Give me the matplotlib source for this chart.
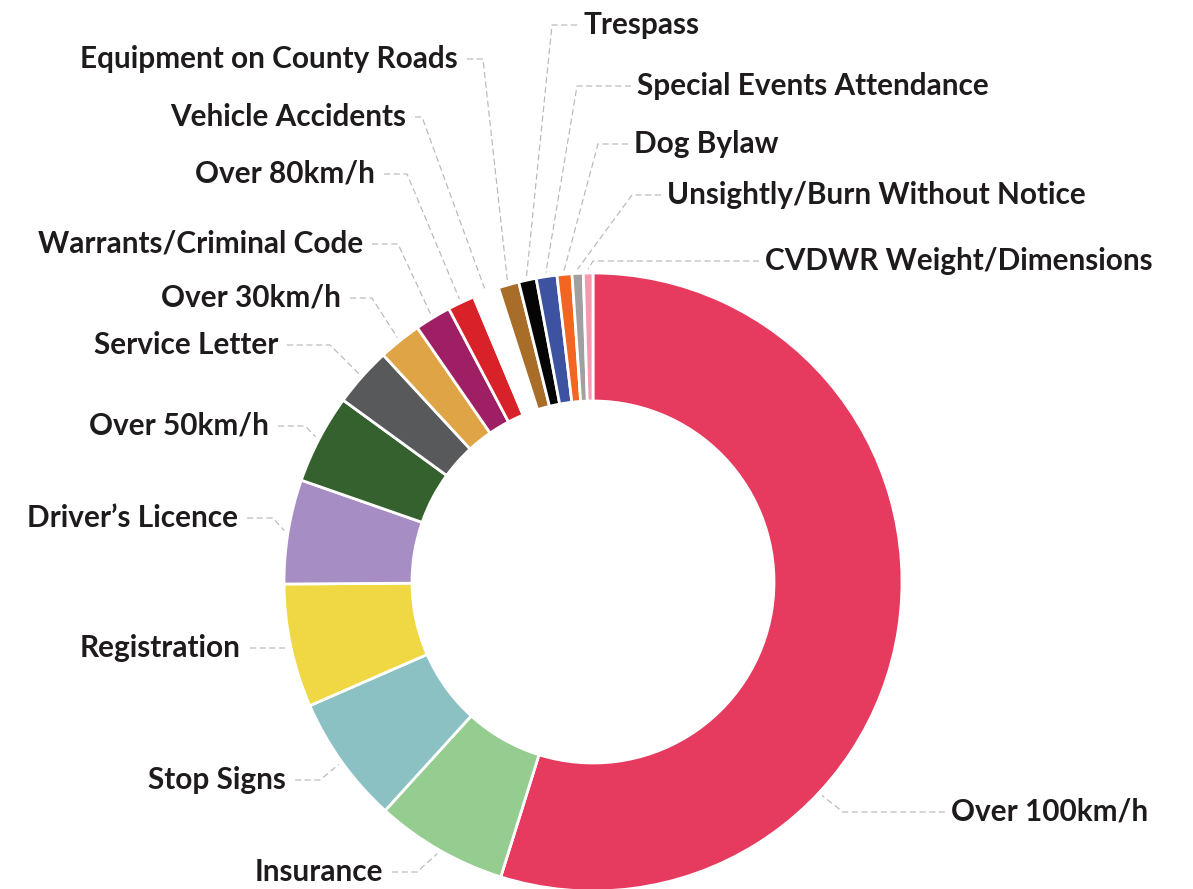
import matplotlib
matplotlib.use("Agg")
import matplotlib.pyplot as plt
import numpy as np

# ---------------- data ----------------
categories = [
    "Over 100km/h", "Insurance", "Stop Signs", "Registration", "Driver’s Licence",
    "Over 50km/h", "Service Letter", "Over 30km/h", "Warrants/Criminal Code",
    "Over 80km/h", "Vehicle Accidents", "Equipment on County Roads", "Trespass",
    "Special Events Attendance", "Dog Bylaw", "Unsightly/Burn Without Notice",
    "CVDWR Weight/Dimensions",
]
values = [197.2, 24.9, 24.1, 23.2, 19.6, 16.8, 11.2, 8.1, 6.8,
          5.1, 4.9, 3.9, 3.3, 3.9, 2.8, 2.1, 1.8]
colors = [
    "#E63A5E", "#95CC8F", "#8CC1C3", "#F0D844", "#A68DC3",
    "#35612F", "#58595B", "#DFA446", "#9E1F63", "#D92129",
    "#FFFFFF", "#A86D29", "#050505", "#3D52A1", "#F26522",
    "#A0A0A0", "#F49AAE",
]

# ---------------- layout (pixels, y measured from top) ----------------
W, H = 1193, 889
CX, CY = 593, 582
R_OUT, R_IN = 309, 181

# side, text x (edge next to the leader line), text y, bend x
label_layout = {
    "Over 100km/h":                  ("right", 951, 812, 843),
    "Insurance":                     ("left", 383, 872, 417),
    "Stop Signs":                    ("left", 286, 780, 320),
    "Registration":                  ("left", 241, 648, 287),
    "Driver’s Licence":              ("left", 238, 518, 273),
    "Over 50km/h":                   ("left", 269, 426, 305),
    "Service Letter":                ("left", 278, 345, 330),
    "Over 30km/h":                   ("left", 341, 298, 372),
    "Warrants/Criminal Code":        ("left", 363, 244, 398),
    "Over 80km/h":                   ("left", 375, 174, 407),
    "Vehicle Accidents":             ("left", 406, 117, 422),
    "Equipment on County Roads":     ("left", 458, 59, 483),
    "Trespass":                      ("right", 583, 25, 552),
    "Special Events Attendance":     ("right", 637, 86, 577),
    "Dog Bylaw":                     ("right", 634, 144, 598),
    "Unsightly/Burn Without Notice": ("right", 667, 195, 632),
    "CVDWR Weight/Dimensions":       ("right", 765, 261, 593),
}
# anchor angle overrides (degrees clockwise from 12 o'clock)
anchor_override = {"Over 100km/h": 133.0}

FONT = ["Lato", "DejaVu Sans"]
TEXT_COLOR = "#1F1B1C"
LINE_COLOR = "#B8B8B8"

fig = plt.figure(figsize=(W / 100, H / 100), dpi=100)
ax = fig.add_axes([0, 0, 1, 1])

wedges, _ = ax.pie(
    values, colors=colors, startangle=90, counterclock=False,
    radius=R_OUT, center=(CX, H - CY),
    wedgeprops=dict(width=R_OUT - R_IN, edgecolor="white", linewidth=2.0),
)
ax.set_xlim(0, W)
ax.set_ylim(0, H)
ax.set_aspect("equal")
ax.axis("off")

r_anchor = R_OUT + 4
for name, w in zip(categories, wedges):
    side, tx, ty, bx = label_layout[name]
    if name in anchor_override:
        ang = np.deg2rad(90 - anchor_override[name])
    else:
        ang = np.deg2rad((w.theta1 + w.theta2) / 2)
    axp = CX + r_anchor * np.cos(ang)
    ayp = (H - CY) + r_anchor * np.sin(ang)
    yd = H - ty
    if side == "left":
        x0 = tx + 9
        ha = "right"
    else:
        x0 = tx - 6
        ha = "left"
    ax.plot([x0, bx, axp], [yd, yd, ayp], color=LINE_COLOR, lw=0.85,
            dashes=(5.2, 3.0), solid_capstyle="butt", zorder=1)
    ax.text(tx, yd, name, ha=ha, va="center", fontsize=21.4,
            fontweight="bold", family=FONT, color=TEXT_COLOR)

fig.savefig("out.png", dpi=100, facecolor="white")
